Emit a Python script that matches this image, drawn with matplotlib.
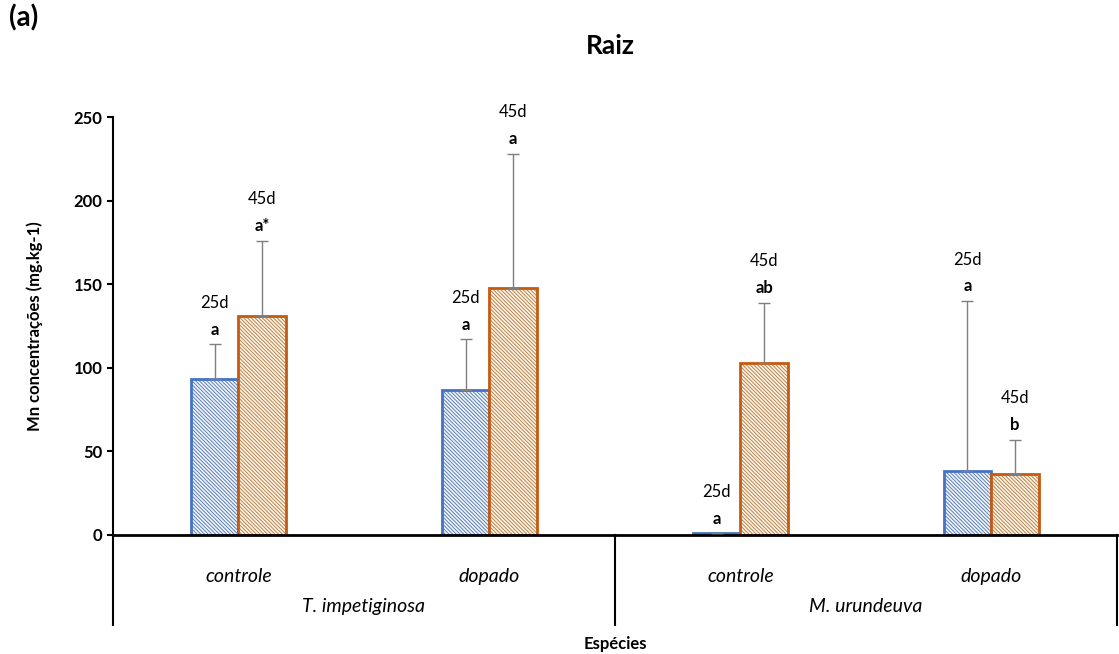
import matplotlib
matplotlib.use('Agg')
import matplotlib.pyplot as plt
import numpy as np

plt.rcParams['font.family'] = ['Lato', 'DejaVu Sans']
plt.rcParams['hatch.linewidth'] = 0.7

treatments = ['controle', 'dopado', 'controle', 'dopado']
species = ['T. impetiginosa', 'M. urundeuva']
mn_25d = [93.5, 86.5, 1.0, 38.0]
mn_25d_err = [20.5, 30.5, 0.0, 102.0]
mn_45d = [131.0, 147.5, 103.0, 36.5]
mn_45d_err = [45.0, 80.5, 36.0, 20.5]
letters_25d = ['a', 'a', 'a', 'a']
letters_45d = ['a*', 'a', 'ab', 'b']

blue = '#4472C4'
orange = '#C55A11'
blue_hatch = '#5b7fb8'
orange_hatch = '#b5834f'
blue_face = '#f2f6fb'
orange_face = '#fff5e6'
width = 0.19

figure = plt.figure(figsize=(11.19, 6.54), dpi=100)
axes = figure.add_axes([0.101, 0.182, 0.897, 0.639])
x = np.arange(len(treatments))

for offset, values, errors, color, hatch_color, face, day, letters in (
        (-width / 2, mn_25d, mn_25d_err, blue, blue_hatch, blue_face, '25d', letters_25d),
        (width / 2, mn_45d, mn_45d_err, orange, orange_hatch, orange_face, '45d', letters_45d)):
    # hatch layer first (hatch takes the edge colour), then the solid outline
    axes.bar(x + offset, values, width, color=face, edgecolor=hatch_color,
             hatch='\\' * 9, linewidth=0, zorder=2)
    axes.bar(x + offset, values, width, fill=False, edgecolor=color, linewidth=2, zorder=2)
    lower = np.zeros(len(values))
    axes.errorbar(x + offset, values, yerr=[lower, errors], fmt='none', ecolor='#7f7f7f',
                  elinewidth=1, capsize=4, capthick=1, zorder=3)
    for i in range(len(values)):
        top = values[i] + errors[i]
        axes.text(x[i] + offset, top + 4, letters[i], ha='center', va='bottom',
                  fontsize=12, fontweight='bold')
        axes.text(x[i] + offset, top + 20, day, ha='center', va='bottom', fontsize=12)

axes.set_xlim(-0.5, 3.5)
axes.set_ylim(0, 250)
axes.set_yticks(range(0, 251, 50))
axes.tick_params(axis='y', labelsize=12, direction='out', length=4, width=1.5)
for label in axes.get_yticklabels():
    label.set_fontweight('bold')
axes.set_xticks([])
axes.spines['top'].set_visible(False)
axes.spines['right'].set_visible(False)
axes.spines['bottom'].set_linewidth(2)
axes.spines['left'].set_linewidth(1.5)

transform = axes.get_xaxis_transform()
for i, name in enumerate(treatments):
    axes.text(x[i], -0.1, name, transform=transform, ha='center', va='center',
              fontsize=14, style='italic')
for j, name in enumerate(species):
    axes.text(2 * j + 0.5, -0.17, name, transform=transform, ha='center', va='center',
              fontsize=14, style='italic')
for xs in (-0.5, 1.5, 3.5):
    axes.plot([xs, xs], [0, -0.215], transform=transform, color='black', lw=1.5, clip_on=False)

axes.text(1.5, -0.26, 'Espécies', transform=transform, ha='center', va='center',
          fontsize=12, fontweight='bold')
axes.set_ylabel('Mn concentrações (mg.kg-1)', fontsize=12, fontweight='bold', labelpad=22)

figure.text(0.545, 0.93, 'Raiz', ha='center', va='center', fontsize=19, fontweight='bold')
figure.text(0.008, 0.972, '(a)', ha='left', va='center', fontsize=20, fontweight='bold')

figure.savefig('out.png', dpi=100)
